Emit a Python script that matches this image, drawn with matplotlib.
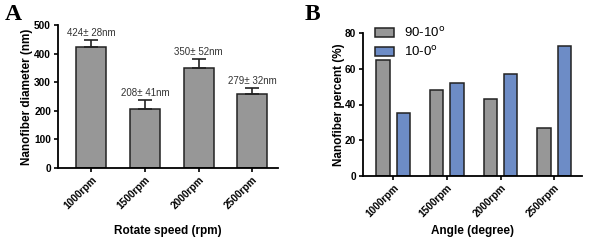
import numpy as np
import matplotlib
matplotlib.use("Agg")
import matplotlib.pyplot as plt

plt.rcParams['font.family'] = ['Liberation Sans', 'DejaVu Sans']

# Panel A data
speeds = ["1000rpm", "1500rpm", "2000rpm", "2500rpm"]
diameter = [424, 208, 350, 260]
diameter_err = [23, 30, 30, 18]
diameter_labels = ["424± 28nm", "208± 41nm", "350± 52nm", "279± 32nm"]

# Panel B data
pct_90_10 = [65, 48, 43, 27]
pct_10_0 = [35, 52, 57, 73]

gray = "#979797"
blue = "#6d8cc6"
edge = "#222222"

fig = plt.figure(figsize=(5.89, 2.5), dpi=100)
axA = fig.add_axes([0.0985, 0.328, 0.3735, 0.572])
axB = fig.add_axes([0.616, 0.296, 0.372, 0.572])

x = np.arange(len(speeds))

# Panel A, error bars drawn upward only
axA.bar(x, diameter, width=0.56, color=gray, edgecolor=edge, linewidth=1.1,
        yerr=[np.zeros(len(diameter_err)), diameter_err],
        error_kw=dict(ecolor=edge, elinewidth=1.2, capsize=5, capthick=1.2))
for xi, v, e, lab in zip(x, diameter, diameter_err, diameter_labels):
    axA.text(xi, v + e + 8, lab, ha="center", va="bottom", fontsize=7, color="#333333")
axA.set_ylim(0, 500)
axA.set_xlim(-0.62, 3.48)
axA.set_yticks([0, 100, 200, 300, 400, 500])
axA.set_ylabel("Nanofiber diameter (nm)", fontsize=8.5, fontweight="bold", labelpad=1)
axA.set_xlabel("Rotate speed (rpm)", fontsize=8.5, fontweight="bold", labelpad=10)

# Panel B
w = 0.25
axB.bar(x - 0.19, pct_90_10, width=w, color=gray, edgecolor=edge, linewidth=1.1,
        label="90-10$^{\\mathrm{o}}$")
axB.bar(x + 0.19, pct_10_0, width=w, color=blue, edgecolor=edge, linewidth=1.1,
        label="10-0$^{\\mathrm{o}}$")
axB.set_ylim(0, 80)
axB.set_xlim(-0.57, 3.52)
axB.set_yticks([0, 20, 40, 60, 80])
axB.set_ylabel("Nanofiber percent (%)", fontsize=8.5, fontweight="bold", labelpad=0)
axB.set_xlabel("Angle (degree)", fontsize=8.5, fontweight="bold", labelpad=4)
axB.legend(loc="upper left", bbox_to_anchor=(0.0, 1.13), frameon=False, fontsize=9.5,
           handlelength=1.5, handleheight=0.7, handletextpad=0.7, labelspacing=0.35)

for ax in (axA, axB):
    ax.spines["top"].set_visible(False)
    ax.spines["right"].set_visible(False)
    ax.spines["left"].set_linewidth(1.3)
    ax.spines["bottom"].set_linewidth(1.3)
    ax.tick_params(width=1.2, length=3, labelsize=7.3, pad=2)
    ax.set_xticks(x)
    ax.set_xticklabels(speeds, rotation=45, ha="right", rotation_mode="anchor", fontweight="bold")
    for t in ax.get_yticklabels():
        t.set_fontweight("bold")

fig.text(0.008, 0.985, "A", family="Liberation Serif", fontsize=17, fontweight="bold", va="top")
fig.text(0.518, 0.985, "B", family="Liberation Serif", fontsize=17, fontweight="bold", va="top")

fig.savefig("out.png", dpi=100)
